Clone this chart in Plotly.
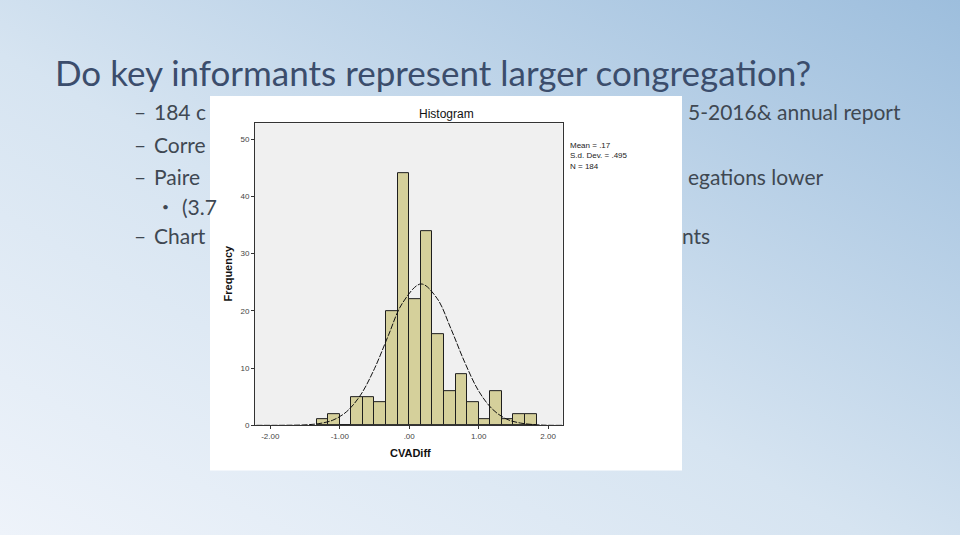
import base64
import plotly.graph_objects as go

# histogram of CVADiff (bin width 1/6)
bin_left = [-1.333, -1.167, -1.0, -0.833, -0.667, -0.5, -0.333, -0.167, 0.0,
            0.167, 0.333, 0.5, 0.667, 0.833, 1.0, 1.167, 1.333, 1.5, 1.667]
counts = [1, 2, 0, 5, 5, 4, 20, 44, 22, 34, 16, 6, 9, 4, 1, 6, 1, 2, 2]
bin_width = 0.1667

# normal curve
curve_x = [-2.2, -1.8, -1.5, -1.3, -1.1, -0.9, -0.7, -0.5, -0.3, -0.1, 0.17,
           0.4, 0.6, 0.8, 1.0, 1.2, 1.4, 1.6, 1.9, 2.2]
curve_y = [0.0, 0.01, 0.08, 0.3, 0.9, 2.4, 5.3, 9.9, 15.7, 21.3, 24.7,
           22.2, 16.9, 11.0, 6.0, 2.8, 1.1, 0.4, 0.05, 0.0]

x_ticks = [-2, -1, 0, 1, 2]
x_tick_labels = ["-2.00", "-1.00", ".00", "1.00", "2.00"]
y_ticks = [0, 10, 20, 30, 40, 50]

stats_lines = ["Mean = .17", "S.d. Dev. = .495", "N = 184"]

slide_title = "Do key informants represent larger congregation?"
left_bits = [("–", "184 c"), ("–", "Corre"), ("–", "Paire"), ("•", "(3.7"), ("–", "Chart")]
right_bits = ["5-2016& annual report", "", "egations lower", "", "nts"]
row_y = [113, 146, 178, 208, 238]
right_end = [903, 0, 825, 0, 712]

W, H = 960, 540


def px(x):
    return x / W


def py(y):
    return 1 - y / H


svg = (
    '<svg xmlns="http://www.w3.org/2000/svg" width="960" height="540" preserveAspectRatio="none">'
    '<defs><linearGradient id="g" x1="0" y1="1" x2="1" y2="0">'
    '<stop offset="0" stop-color="#eef3fa"/><stop offset="0.45" stop-color="#d6e4f1"/>'
    '<stop offset="1" stop-color="#9dbedd"/></linearGradient></defs>'
    '<rect width="960" height="540" fill="url(#g)"/></svg>'
)
bg_src = "data:image/svg+xml;base64," + base64.b64encode(svg.encode()).decode()

fig = go.Figure()

fig.add_trace(go.Bar(
    x=[b + bin_width / 2 for b in bin_left], y=counts, width=bin_width,
    marker=dict(color="#d5d09b", line=dict(color="#1e1e1e", width=1)),
    hoverinfo="x+y", showlegend=False,
))
fig.add_trace(go.Scatter(
    x=curve_x, y=curve_y, mode="lines",
    line=dict(color="#111", width=1, dash="6px,1.5px", shape="spline"),
    hoverinfo="skip", showlegend=False,
))

axis_font = dict(family="Liberation Sans, Arial", size=8, color="#444")
fig.update_layout(
    width=W, height=H, margin=dict(l=0, r=0, t=0, b=0),
    paper_bgcolor="white", plot_bgcolor="rgba(0,0,0,0)", bargap=0,
    xaxis=dict(domain=[px(255), px(562.7)], range=[-2.22, 2.21], tickvals=x_ticks,
               ticktext=x_tick_labels, ticks="outside", ticklen=3, tickcolor="#333",
               showgrid=False, zeroline=False, showline=True, linecolor="#333",
               mirror=True, tickfont=axis_font, fixedrange=True),
    yaxis=dict(domain=[py(429.3), py(124.3)], range=[0, 52.8], tickvals=y_ticks,
               ticks="outside", ticklen=3, tickcolor="#333", showgrid=False,
               zeroline=False, showline=True, linecolor="#333", mirror=True,
               tickfont=axis_font, fixedrange=True),
    images=[dict(source=bg_src, xref="paper", yref="paper", x=0, y=1, sizex=1, sizey=1,
                 xanchor="left", yanchor="top", sizing="stretch", layer="below")],
    shapes=[
        dict(type="rect", xref="paper", yref="paper", x0=px(210), x1=px(682),
             y0=py(475), y1=py(97), fillcolor="white", line=dict(width=0), layer="below"),
        dict(type="rect", xref="paper", yref="paper", x0=px(255), x1=px(562.7),
             y0=py(429.3), y1=py(124.3), fillcolor="#f0f0f0", line=dict(width=0), layer="below"),
    ],
)

ann = []
ann.append(dict(text=slide_title, x=px(53), y=py(73), xanchor="left", yanchor="middle",
                font=dict(family="Lato", size=35, color="#3b4d6c")))
for i, (mark, txt) in enumerate(left_bits):
    indent = 28 if mark == "•" else 0
    ann.append(dict(text=mark, x=px(132 + indent), y=py(row_y[i]), xanchor="left", yanchor="middle",
                    font=dict(family="Lato", size=21 if mark == "–" else 12, color="#3f4852")))
    ann.append(dict(text=txt, x=px(152 + indent), y=py(row_y[i]),
                    xanchor="left", yanchor="middle",
                    font=dict(family="Lato", size=21, color="#3f4852")))
for i, txt in enumerate(right_bits):
    if txt:
        ann.append(dict(text=txt, x=px(right_end[i]), y=py(row_y[i]), xanchor="right", yanchor="middle",
                        font=dict(family="Lato", size=21, color="#3f4852")))

ann.append(dict(text="Histogram", x=px(446), y=py(115), xanchor="center", yanchor="middle",
                font=dict(family="Liberation Sans, Arial", size=12, color="#111")))
ann.append(dict(text="<b>Frequency</b>", x=px(228), y=py(276), xanchor="center", yanchor="middle",
                textangle=-90, font=dict(family="Liberation Sans, Arial", size=11, color="#111")))
ann.append(dict(text="<b>CVADiff</b>", x=px(410), y=py(457), xanchor="center", yanchor="middle",
                font=dict(family="Liberation Sans, Arial", size=11, color="#111")))
ann.append(dict(text="<br>".join(stats_lines), x=px(568), y=py(140), xanchor="left", yanchor="top",
                align="left", font=dict(family="Liberation Sans, Arial", size=8, color="#222")))

for a in ann:
    a.update(xref="paper", yref="paper", showarrow=False)
fig.update_layout(annotations=ann)

fig.write_html("out.html", config={"displayModeBar": False},
               post_script="document.body.style.margin='0';")
